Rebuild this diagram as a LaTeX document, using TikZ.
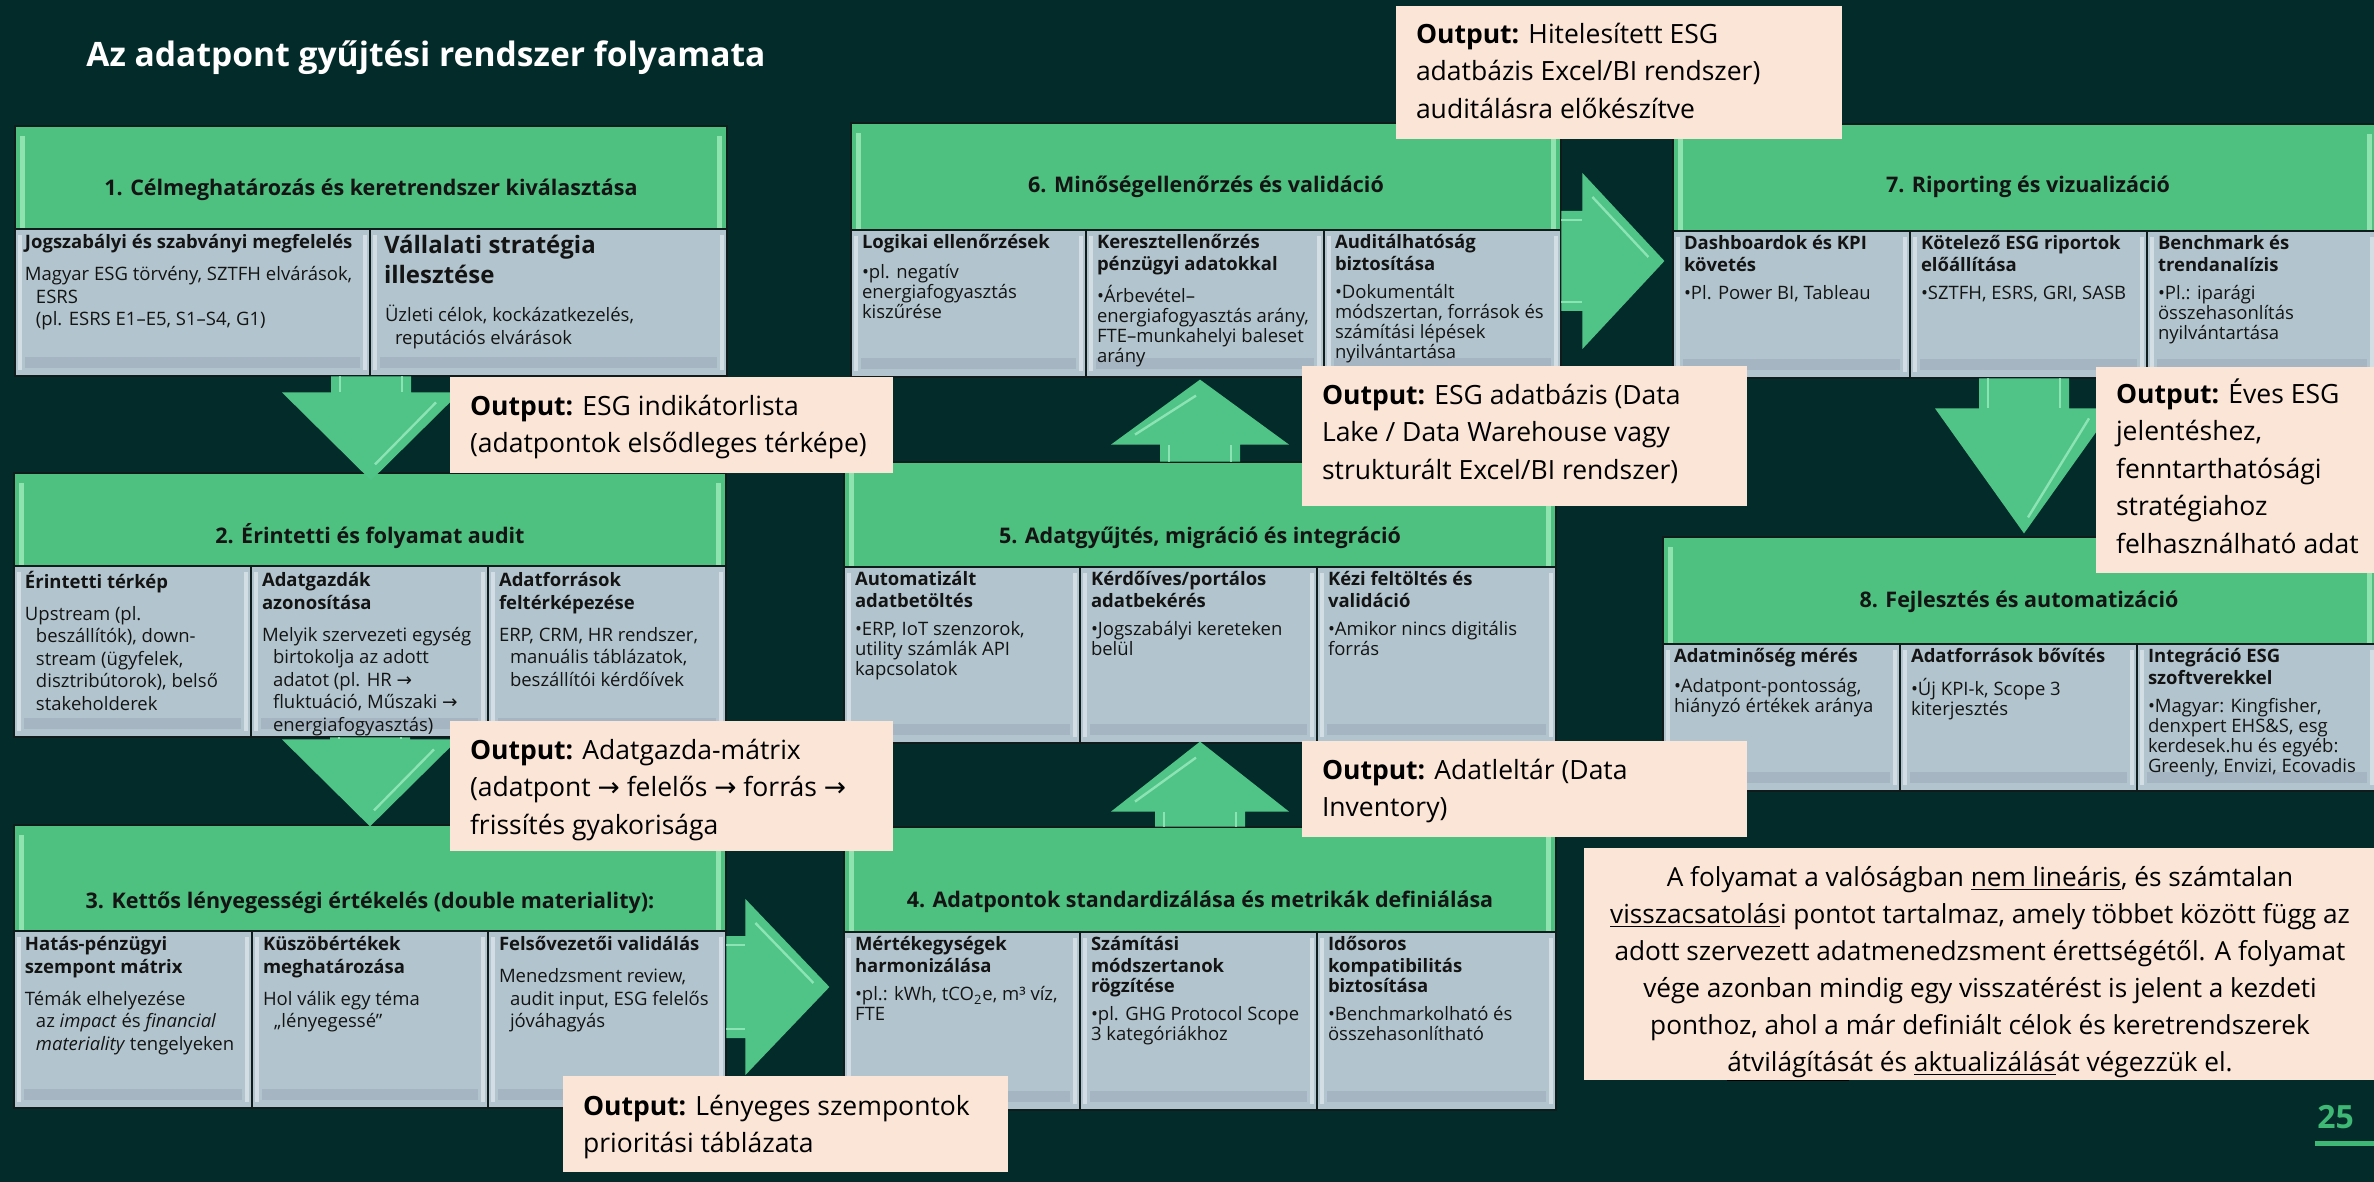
\documentclass[tikz,border=0pt]{standalone}
\usepackage{fontspec}
\setmainfont{Open Sans}
\newfontfamily\arrowfont{DejaVu Sans}
\usetikzlibrary{positioning}
\usetikzlibrary{fit}
\usetikzlibrary{calc}

\definecolor{bgdark}{HTML}{032B2A}
\definecolor{hdrgreen}{HTML}{4EC07F}
\definecolor{hdrlight}{HTML}{8FE3AE}
\definecolor{cellgrey}{HTML}{B2C5CE}
\definecolor{celllight}{HTML}{D3DEE4}
\definecolor{cellband}{HTML}{A5B6C2}
\definecolor{edgedark}{HTML}{101C1C}
\definecolor{peach}{HTML}{FBE5D7}
\definecolor{arrowgreen}{HTML}{50C486}
\definecolor{arrowlight}{HTML}{9BEBC0}
\definecolor{txtdark}{HTML}{141414}
\definecolor{pagegreen}{HTML}{3EB874}

\newcommand\flowto{{\arrowfont →}}
% block arrow: start, angle, length, stem half width, head half width, head length
\newcommand\flowarrow[6]{%
  \begin{scope}[shift={(#1)}, rotate=#2]
    \fill[arrowgreen] (0,-#4) -- (#3-#6,-#4) -- (#3-#6,-#5) -- (#3,0) -- (#3-#6,#5) -- (#3-#6,#4) -- (0,#4) -- cycle;
    \draw[arrowhi] (0,-#4+9) -- (#3-#6,-#4+9);
    \draw[arrowhi] (0,#4-9) -- (#3-#6,#4-9);
    \draw[arrowhi] (#3-#6+10,-#5+24) -- (#3-16,-4);
  \end{scope}}

\tikzset{
  hdr/.style={draw=edgedark, line width=1.4pt, fill=hdrgreen, inner sep=0pt,
    path picture={
      \fill[hdrlight] ([xshift=2.5pt,yshift=-5pt]path picture bounding box.north west) rectangle ([xshift=5pt]path picture bounding box.south west);
      \fill[hdrlight] ([xshift=-2.5pt,yshift=-5pt]path picture bounding box.north east) rectangle ([xshift=-5pt]path picture bounding box.south east);
    }},
  cellbox/.style={draw=edgedark, line width=1.4pt, fill=cellgrey, inner sep=0pt,
    path picture={
      \fill[cellband] ([xshift=5pt,yshift=9.5pt]path picture bounding box.south west) rectangle ([xshift=-5pt,yshift=4pt]path picture bounding box.south east);
      \fill[celllight] ([xshift=1.5pt,yshift=-3pt]path picture bounding box.north west) rectangle ([xshift=3.5pt,yshift=3pt]path picture bounding box.south west);
      \fill[celllight] ([xshift=-1.5pt,yshift=-3pt]path picture bounding box.north east) rectangle ([xshift=-3.5pt,yshift=3pt]path picture bounding box.south east);
    }},
  boxarea/.style={inner sep=0pt},
  hdrtxt/.style={anchor=base, inner sep=0pt, text=txtdark, font=\fontsize{10.75}{13}\selectfont\bfseries},
  celltxt/.style={anchor=north west, align=left, inner sep=0pt, text=txtdark, font=\fontsize{9.25}{11.25}\selectfont},
  celltxtlow/.style={celltxt, font=\fontsize{9.25}{10}\selectfont},
  outbox/.style={fill=peach, inner sep=0pt},
  outtxt/.style={anchor=north west, align=left, inner sep=0pt, text=black, font=\fontsize{13.25}{18.75}\selectfont},
  arrowhi/.style={draw=arrowlight, line width=1.2pt, opacity=0.8},
}

\begin{document}
\begin{tikzpicture}[x=0.5pt, y=-0.5pt]
    \useasboundingbox (0,0) rectangle (2374,1182);
    \clip (0,0) rectangle (2374,1182);
    \fill[bgdark] (0,0) rectangle (2374,1182);

    \node[anchor=base west, inner sep=0pt, text=white, font=\fontsize{16.8}{20}\selectfont\bfseries] (title) at (86,67) {Az adatpont gyűjtési rendszer folyamata};

    % 1. step
    \node[boxarea, fit={(15,126) (727,376)}] (b1) {};
    \node[hdr, fit={(15,126) (727,229)}] (h1) {};
    \node[cellbox, fit={(15,229) (370,376)}] (c11) {};
    \node[cellbox, fit={(370,229) (727,376)}] (c12) {};
    \node[hdrtxt] (t1) at (371,196) {1. Célmeghatározás és keretrendszer kiválasztása};
    \node[celltxt] (x11) at ([shift={(11,5)}]c11.north west) {\strut\textbf{Jogszabályi és szabványi megfelelés}\\[4.75pt]
        Magyar ESG törvény, SZTFH elvárások,\\ \hspace*{5.5pt}ESRS\\ \hspace*{5.5pt}(pl. ESRS E1–E5, S1–S4, G1)};
    \node[celltxt, font=\fontsize{12}{15}\selectfont\bfseries] (x12) at ([shift={(15,5)}]c12.north west) {\strut Vállalati stratégia\\illesztése};
    \node[celltxt] (y12) at ([shift={(16,77)}]c12.north west) {\strut Üzleti célok, kockázatkezelés,\\ \hspace*{5pt}reputációs elvárások};

    % 2. step
    \node[boxarea, fit={(14,473) (726,737)}] (b2) {};
    \node[hdr, fit={(14,473) (726,566)}] (h2) {};
    \node[cellbox, fit={(14,566) (251,737)}] (c21) {};
    \node[cellbox, fit={(251,566) (488,737)}] (c22) {};
    \node[cellbox, fit={(488,566) (726,737)}] (c23) {};
    \node[hdrtxt] (t2) at (370,543) {2. Érintetti és folyamat audit};
    \node[celltxt] (x21) at ([shift={(12,6)}]c21.north west) {\strut\textbf{Érintetti térkép}\\[4.75pt]
        Upstream (pl.\\ \hspace*{5.5pt}beszállítók), down-\\ \hspace*{5.5pt}stream (ügyfelek,\\ \hspace*{5.5pt}disztribútorok), belső\\ \hspace*{5.5pt}stakeholderek};
    \node[celltxt] (x22) at ([shift={(12,6)}]c22.north west) {\strut\textbf{Adatgazdák}\\ \textbf{azonosítása}\\[4.75pt]
        Melyik szervezeti egység\\ \hspace*{5.5pt}birtokolja az adott\\ \hspace*{5.5pt}adatot (pl. HR \flowto\\ \hspace*{5.5pt}fluktuáció, Műszaki \flowto\\ \hspace*{5.5pt}energiafogyasztás)};
    \node[celltxt] (x23) at ([shift={(12,6)}]c23.north west) {\strut\textbf{Adatforrások}\\ \textbf{feltérképezése}\\[4.75pt]
        ERP, CRM, HR rendszer,\\ \hspace*{5.5pt}manuális táblázatok,\\ \hspace*{5.5pt}beszállítói kérdőívek};

    % 3. step
    \node[boxarea, fit={(14,825) (726,1108)}] (b3) {};
    \node[hdr, fit={(14,825) (726,931)}] (h3) {};
    \node[cellbox, fit={(14,931) (252,1108)}] (c31) {};
    \node[cellbox, fit={(252,931) (488,1108)}] (c32) {};
    \node[cellbox, fit={(488,931) (726,1108)}] (c33) {};
    \node[hdrtxt] (t3) at (370,908) {3. Kettős lényegességi értékelés (double materiality):};
    \node[celltxt] (x31) at ([shift={(12,5)}]c31.north west) {\strut\textbf{Hatás-pénzügyi}\\ \textbf{szempont mátrix}\\[4.75pt]
        Témák elhelyezése\\ \hspace*{5.5pt}az \textit{impact} és \textit{financial}\\ \hspace*{5.5pt}\textit{materiality} tengelyeken};
    \node[celltxt] (x32) at ([shift={(12,5)}]c32.north west) {\strut\textbf{Küszöbértékek}\\ \textbf{meghatározása}\\[4.75pt]
        Hol válik egy téma\\ \hspace*{5.5pt}„lényegessé”};
    \node[celltxt] (x33) at ([shift={(12,5)}]c33.north west) {\strut\textbf{Felsővezetői validálás}\\[4.75pt]
        Menedzsment review,\\ \hspace*{5.5pt}audit input, ESG felelős\\ \hspace*{5.5pt}jóváhagyás};

    % 4. step
    \node[boxarea, fit={(844,827) (1556,1110)}] (b4) {};
    \node[hdr, fit={(844,827) (1556,932)}] (h4) {};
    \node[cellbox, fit={(844,932) (1080,1110)}] (c41) {};
    \node[cellbox, fit={(1080,932) (1317,1110)}] (c42) {};
    \node[cellbox, fit={(1317,932) (1556,1110)}] (c43) {};
    \node[hdrtxt] (t4) at (1200,907) {4. Adatpontok standardizálása és metrikák definiálása};
    \node[celltxtlow] (x41) at ([shift={(12,5.5)}]c41.north west) {\strut\textbf{Mértékegységek}\\ \textbf{harmonizálása}\\[4pt]
        •pl.: kWh, tCO\textsubscript{2}e, m³ víz,\\ FTE};
    \node[celltxtlow] (x42) at ([shift={(12,5.5)}]c42.north west) {\strut\textbf{Számítási}\\ \textbf{módszertanok}\\ \textbf{rögzítése}\\[4pt]
        •pl. GHG Protocol Scope\\ 3 kategóriákhoz};
    \node[celltxtlow] (x43) at ([shift={(12,5.5)}]c43.north west) {\strut\textbf{Idősoros}\\ \textbf{kompatibilitás}\\ \textbf{biztosítása}\\[4pt]
        •Benchmarkolható és\\ összehasonlítható};

    % 5. step
    \node[boxarea, fit={(844,462) (1556,743)}] (b5) {};
    \node[hdr, fit={(844,462) (1556,567)}] (h5) {};
    \node[cellbox, fit={(844,567) (1080,743)}] (c51) {};
    \node[cellbox, fit={(1080,567) (1317,743)}] (c52) {};
    \node[cellbox, fit={(1317,567) (1556,743)}] (c53) {};
    \node[hdrtxt] (t5) at (1200,543) {5. Adatgyűjtés, migráció és integráció};
    \node[celltxtlow] (x51) at ([shift={(12,5.5)}]c51.north west) {\strut\textbf{Automatizált}\\ \textbf{adatbetöltés}\\[4pt]
        •ERP, IoT szenzorok,\\ utility számlák API\\ kapcsolatok};
    \node[celltxtlow] (x52) at ([shift={(12,5.5)}]c52.north west) {\strut\textbf{Kérdőíves/portálos}\\ \textbf{adatbekérés}\\[4pt]
        •Jogszabályi kereteken\\ belül};
    \node[celltxtlow] (x53) at ([shift={(12,5.5)}]c53.north west) {\strut\textbf{Kézi feltöltés és}\\ \textbf{validáció}\\[4pt]
        •Amikor nincs digitális\\ forrás};

    % 6. step
    \node[boxarea, fit={(851,123) (1561,377)}] (b6) {};
    \node[hdr, fit={(851,123) (1561,230)}] (h6) {};
    \node[cellbox, fit={(851,230) (1086,377)}] (c61) {};
    \node[cellbox, fit={(1086,230) (1324,377)}] (c62) {};
    \node[cellbox, fit={(1324,230) (1561,377)}] (c63) {};
    \node[hdrtxt] (t6) at (1206,193) {6. Minőségellenőrzés és validáció};
    \node[celltxtlow] (x61) at ([shift={(12,5.5)}]c61.north west) {\strut\textbf{Logikai ellenőrzések}\\[4pt]
        •pl. negatív\\ energiafogyasztás\\ kiszűrése};
    \node[celltxtlow] (x62) at ([shift={(12,5.5)}]c62.north west) {\strut\textbf{Keresztellenőrzés}\\ \textbf{pénzügyi adatokkal}\\[4pt]
        •Árbevétel–\\ energiafogyasztás arány,\\ FTE–munkahelyi baleset\\ arány};
    \node[celltxtlow] (x63) at ([shift={(12,5.5)}]c63.north west) {\strut\textbf{Auditálhatóság}\\ \textbf{biztosítása}\\[4pt]
        •Dokumentált\\ módszertan, források és\\ számítási lépések\\ nyilvántartása};

    % 7. step
    \node[boxarea, fit={(1673,124) (2377,378)}] (b7) {};
    \node[hdr, fit={(1673,124) (2377,231)}] (h7) {};
    \node[cellbox, fit={(1673,231) (1910,378)}] (c71) {};
    \node[cellbox, fit={(1910,231) (2147,378)}] (c72) {};
    \node[cellbox, fit={(2147,231) (2377,378)}] (c73) {};
    \node[hdrtxt] (t7) at (2028,193) {7. Riporting és vizualizáció};
    \node[celltxtlow] (x71) at ([shift={(12,5.5)}]c71.north west) {\strut\textbf{Dashboardok és KPI}\\ \textbf{követés}\\[4pt]
        •Pl. Power BI, Tableau};
    \node[celltxtlow] (x72) at ([shift={(12,5.5)}]c72.north west) {\strut\textbf{Kötelező ESG riportok}\\ \textbf{előállítása}\\[4pt]
        •SZTFH, ESRS, GRI, SASB};
    \node[celltxtlow] (x73) at ([shift={(12,5.5)}]c73.north west) {\strut\textbf{Benchmark és}\\ \textbf{trendanalízis}\\[4pt]
        •Pl.: iparági\\ összehasonlítás\\ nyilvántartása};

    % 8. step
    \node[boxarea, fit={(1663,537) (2377,791)}] (b8) {};
    \node[hdr, fit={(1663,537) (2377,644)}] (h8) {};
    \node[cellbox, fit={(1663,644) (1900,791)}] (c81) {};
    \node[cellbox, fit={(1900,644) (2137,791)}] (c82) {};
    \node[cellbox, fit={(2137,644) (2377,791)}] (c83) {};
    \node[hdrtxt] (t8) at (2019,607) {8. Fejlesztés és automatizáció};
    \node[celltxtlow] (x81) at ([shift={(12,5.5)}]c81.north west) {\strut\textbf{Adatminőség mérés}\\[4pt]
        •Adatpont-pontosság,\\ hiányzó értékek aránya};
    \node[celltxtlow] (x82) at ([shift={(12,5.5)}]c82.north west) {\strut\textbf{Adatforrások bővítés}\\[4pt]
        •Új KPI-k, Scope 3\\ kiterjesztés};
    \node[celltxtlow] (x83) at ([shift={(12,5.5)}]c83.north west) {\strut\textbf{Integráció ESG}\\ \textbf{szoftverekkel}\\[4pt]
        •Magyar: Kingfisher,\\ denxpert EHS\&S, esg\\ kerdesek.hu és egyéb:\\ Greenly, Envizi, Ecovadis};

    % arrows between the steps
    \flowarrow{b1.south}{-90}{104}{40}{89}{88}
    \flowarrow{b2.south}{-90}{89}{40}{88}{87}
    \flowarrow{[yshift=-10.25pt]b3.east}{0}{103}{51}{88}{84}
    \flowarrow{b4.north}{90}{85}{45}{89}{70}
    \flowarrow{b5.north}{90}{82}{40}{89}{65}
    \flowarrow{[yshift=-5.5pt]b6.east}{0}{103}{50}{88}{82}
    \flowarrow{[xshift=-0.5pt]b7.south}{-90}{155}{45}{89}{125}

    % outputs
    \node[outbox, fit={(450,377) (893,473)}] (o1) {};
    \node[outtxt] (p1) at ([shift={(20,12)}]o1.north west) {\strut\textbf{Output:} ESG indikátorlista\\(adatpontok elsődleges térképe)};
    \node[outbox, fit={(450,721) (893,851)}] (o2) {};
    \node[outtxt] (p2) at ([shift={(20,12)}]o2.north west) {\strut\textbf{Output:} Adatgazda-mátrix\\(adatpont \flowto{} felelős \flowto{} forrás \flowto\\frissítés gyakorisága};
    \node[outbox, fit={(563,1076) (1008,1172)}] (o3) {};
    \node[outtxt] (p3) at ([shift={(20,13)}]o3.north west) {\strut\textbf{Output:} Lényeges szempontok\\prioritási táblázata};
    \node[outbox, fit={(1302,741) (1747,837)}] (o4) {};
    \node[outtxt] (p4) at ([shift={(20,12)}]o4.north west) {\strut\textbf{Output:} Adatleltár (Data\\Inventory)};
    \node[outbox, fit={(1302,366) (1747,506)}] (o5) {};
    \node[outtxt] (p5) at ([shift={(20,12)}]o5.north west) {\strut\textbf{Output:} ESG adatbázis (Data\\Lake / Data Warehouse vagy\\strukturált Excel/BI rendszer)};
    \node[outbox, fit={(1396,6) (1842,139)}] (o6) {};
    \node[outtxt] (p6) at ([shift={(20,11)}]o6.north west) {\strut\textbf{Output:} Hitelesített ESG\\adatbázis Excel/BI rendszer)\\auditálásra előkészítve};
    \node[outbox, fit={(2096,367) (2380,573)}] (o7) {};
    \node[outtxt] (p7) at ([shift={(20,10)}]o7.north west) {\strut\textbf{Output:} Éves ESG\\jelentéshez,\\fenntarthatósági\\stratégiahoz\\felhasználható adat};

    % note
    \node[outbox, fit={(1584,848) (2380,1080)}] (note) {};
    \node[anchor=north, align=center, inner sep=0pt, text=black, font=\fontsize{13.1}{18.5}\selectfont] (notetxt) at (1980,860) {\strut A folyamat a valóságban \underline{nem lineáris}, és számtalan\\
        \underline{visszacsatolás}i pontot tartalmaz, amely többet között függ az\\
        adott szervezett adatmenedzsment érettségétől. A folyamat\\
        vége azonban mindig egy visszatérést is jelent a kezdeti\\
        ponthoz, ahol a már definiált célok és keretrendszerek\\
        \underline{átvilágítás}át és \underline{aktualizálás}át végezzük el.};

    % page number
    \node[anchor=base west, inner sep=0pt, text=pagegreen, font=\fontsize{16}{18}\selectfont\bfseries] (pnum) at (2317,1128) {25};
    \fill[pagegreen] (2315,1141) rectangle (2374,1146);
\end{tikzpicture}
\end{document}
